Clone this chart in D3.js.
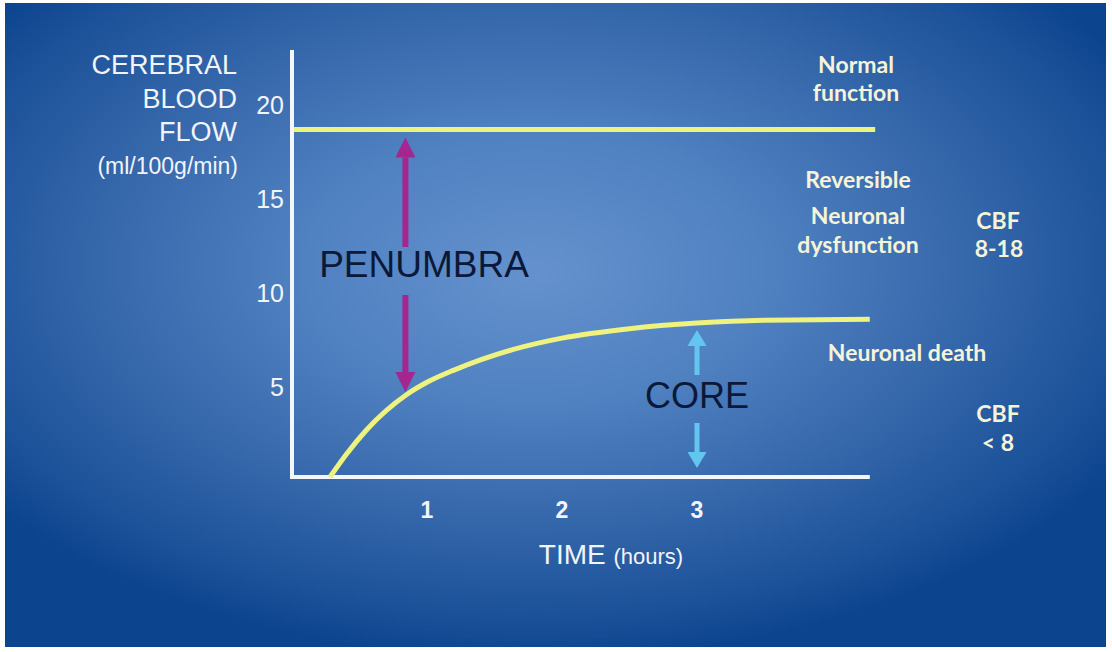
<!DOCTYPE html>
<html>
<head>
<meta charset="utf-8">
<script src="https://cdn.jsdelivr.net/npm/d3@7/dist/d3.min.js"></script>
<style>
html,body{margin:0;padding:0;background:#fff;}
svg{display:block;}
</style>
</head>
<body>
<svg id="chart" width="1112" height="652"></svg>
<script>
// ---- data ----
const xTicks = [1, 2, 3];
const yTicks = [5, 10, 15, 20];
const yAxisLabel = ["CEREBRAL", "BLOOD", "FLOW"];
const yAxisUnit = "(ml/100g/min)";
const xAxisLabel = "TIME";
const xAxisUnit = "(hours)";
const normalLevel = 18.7;            // "normal function" threshold line
const normalSpan = [0, 4.32];        // time extent of normal line
const coreTime = [0.28, 0.4, 0.55, 0.85, 1.0, 1.2, 1.64, 2.0, 2.5, 3.0, 3.5, 4.28];
const coreCBF  = [0.2, 1.4, 2.7, 4.6, 5.25, 5.9, 7.0, 7.6, 8.1, 8.4, 8.55, 8.6];
const penumbraTime = 0.84;
const coreArrowTime = 3.0;

const svg = d3.select("#chart");
const W = 1112, H = 652;

// background
const defs = svg.append("defs");
const rg = defs.append("radialGradient").attr("id", "bg")
  .attr("cx", 0.48).attr("cy", 0.4).attr("r", 0.62).attr("fx", 0.48).attr("fy", 0.42);
[[0, "#6592ce"], [0.35, "#4f80c0"], [0.65, "#3466aa"], [0.88, "#1c5299"], [1, "#0c448e"]]
  .forEach(([o, c]) => rg.append("stop").attr("offset", o).attr("stop-color", c));
svg.append("rect").attr("x", 5).attr("y", 3).attr("width", W - 11).attr("height", H - 8)
  .attr("fill", "url(#bg)");

// scales
const x = d3.scaleLinear().domain([0, 4]).range([292, 832]);
const y = d3.scaleLinear().domain([0, 20]).range([481, 105]);
const x0 = 292, y0 = 477;

// axis lines
const axisColor = "#f4f6fb";
svg.append("path")
  .attr("d", `M${x0},50 L${x0},${y0} L${x(4.28)},${y0}`)
  .attr("fill", "none").attr("stroke", axisColor).attr("stroke-width", 4)
  .attr("stroke-linejoin", "miter");

// tick labels
const tickFont = "'Liberation Sans', Arial, sans-serif";
svg.append("g").selectAll("text").data(yTicks).join("text")
  .attr("x", 284).attr("y", d => y(d)).attr("dy", "0.36em")
  .attr("text-anchor", "end").attr("fill", "#f2f4fa")
  .style("font-family", tickFont).style("font-size", "25px")
  .text(d => d);
svg.append("g").selectAll("text").data(xTicks).join("text")
  .attr("x", d => x(d)).attr("y", 510).attr("dy", "0.36em")
  .attr("text-anchor", "middle").attr("fill", "#f2f4fa")
  .style("font-family", tickFont).style("font-size", "23px").style("font-weight", "bold")
  .text(d => d);

// y axis label
svg.append("g").selectAll("text").data(yAxisLabel).join("text")
  .attr("x", 237).attr("y", (d, i) => [64, 98, 131][i]).attr("dy", "0.36em")
  .attr("text-anchor", "end").attr("fill", "#f2f4fa")
  .style("font-family", tickFont).style("font-size", "27px")
  .text(d => d);
svg.append("text").attr("x", 238).attr("y", 166).attr("dy", "0.36em")
  .attr("text-anchor", "end").attr("fill", "#f2f4fa")
  .style("font-family", tickFont).style("font-size", "23px")
  .text(yAxisUnit);

// x axis label
const xl = svg.append("text").attr("x", 611).attr("y", 558).attr("dy", "0.36em")
  .attr("text-anchor", "middle").attr("fill", "#f2f4fa")
  .style("font-family", tickFont);
xl.append("tspan").style("font-size", "28px").text(xAxisLabel + " ");
xl.append("tspan").style("font-size", "22px").text(xAxisUnit);

// normal line
const lineColor = "#eef27e";
svg.append("line")
  .attr("x1", x(normalSpan[0]) + 2).attr("x2", x(normalSpan[1]))
  .attr("y1", y(normalLevel)).attr("y2", y(normalLevel))
  .attr("stroke", lineColor).attr("stroke-width", 5);

// core curve
const pts = coreTime.map((t, i) => [t, coreCBF[i]]);
const line = d3.line().x(d => x(d[0])).y(d => y(d[1])).curve(d3.curveMonotoneX);
svg.append("path").datum(pts).attr("d", line)
  .attr("fill", "none").attr("stroke", lineColor).attr("stroke-width", 5)
  .attr("stroke-linecap", "butt");

// arrows helper
function arrow(xc, yFrom, yTo, color, shaftW, headW, headH) {
  const dir = yTo > yFrom ? 1 : -1;
  const yBase = yTo - dir * headH;
  svg.append("line").attr("x1", xc).attr("x2", xc).attr("y1", yFrom).attr("y2", yBase)
    .attr("stroke", color).attr("stroke-width", shaftW);
  svg.append("path")
    .attr("d", `M${xc - headW / 2},${yBase} L${xc + headW / 2},${yBase} L${xc},${yTo} Z`)
    .attr("fill", color);
}

// penumbra arrows
const pColor = "#a4268f";
const px = x(penumbraTime);
arrow(px, 247, y(normalLevel) + 8, pColor, 6, 20, 20);
arrow(px, 295, 392, pColor, 6, 20, 20);
svg.append("text").attr("x", 424).attr("y", 277).attr("text-anchor", "middle")
  .attr("fill", "#0b1838")
  .style("font-family", tickFont).style("font-size", "37px")
  .text("PENUMBRA");

// core arrows
const cColor = "#63c6f0";
const cx = x(coreArrowTime);
arrow(cx, 375, 330, cColor, 5, 19, 16);
arrow(cx, 423, 468, cColor, 5, 19, 16);
svg.append("text").attr("x", cx).attr("y", 408).attr("text-anchor", "middle")
  .attr("fill", "#0b1838")
  .style("font-family", tickFont).style("font-size", "36px")
  .text("CORE");

// right-side annotations
const annFont = "Lato, 'Open Sans', sans-serif";
const annColor = "#f6f4d8";
const ann = [
  {t: "Normal", x: 856, y: 65},
  {t: "function", x: 856, y: 93},
  {t: "Reversible", x: 858, y: 180},
  {t: "Neuronal", x: 858, y: 216},
  {t: "dysfunction", x: 858, y: 245},
  {t: "CBF", x: 998, y: 221},
  {t: "8-18", x: 999, y: 249},
  {t: "Neuronal death", x: 907, y: 353},
  {t: "CBF", x: 998, y: 414},
  {t: "< 8", x: 998, y: 443},
];
svg.append("g").selectAll("text").data(ann).join("text")
  .attr("x", d => d.x).attr("y", d => d.y).attr("dy", "0.36em")
  .attr("text-anchor", "middle").attr("fill", annColor)
  .style("font-family", annFont).style("font-size", "23px").style("font-weight", "bold")
  .text(d => d.t);
</script>
</body>
</html>
